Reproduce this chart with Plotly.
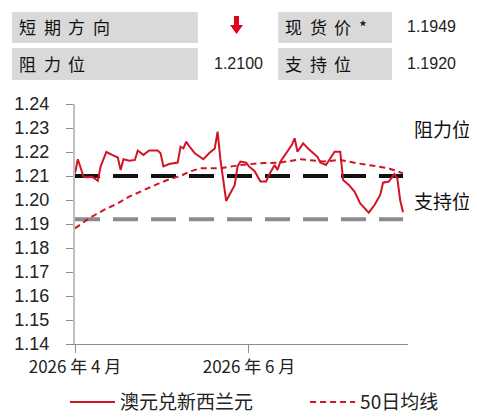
import plotly.graph_objs as go

# AUD/NZD spot
spot_dates = ['2026-04-01', '2026-04-02', '2026-04-04', '2026-04-05', '2026-04-07', '2026-04-09',
              '2026-04-10', '2026-04-12', '2026-04-14', '2026-04-16', '2026-04-17', '2026-04-18',
              '2026-04-20', '2026-04-22', '2026-04-23', '2026-04-25', '2026-04-27', '2026-04-30',
              '2026-05-01', '2026-05-02', '2026-05-04', '2026-05-07', '2026-05-08', '2026-05-09',
              '2026-05-10', '2026-05-11', '2026-05-13', '2026-05-16', '2026-05-18', '2026-05-20',
              '2026-05-21', '2026-05-22', '2026-05-24', '2026-05-26', '2026-05-27', '2026-05-28',
              '2026-05-29', '2026-05-31', '2026-06-01', '2026-06-03', '2026-06-05', '2026-06-07',
              '2026-06-08', '2026-06-10', '2026-06-11', '2026-06-12', '2026-06-14', '2026-06-16',
              '2026-06-17', '2026-06-18', '2026-06-20', '2026-06-22', '2026-06-25', '2026-06-26',
              '2026-06-28', '2026-06-30', '2026-07-01', '2026-07-03', '2026-07-04', '2026-07-06',
              '2026-07-08', '2026-07-10', '2026-07-13', '2026-07-15', '2026-07-17', '2026-07-18',
              '2026-07-20', '2026-07-22', '2026-07-23', '2026-07-24', '2026-07-25']
spot_values = [1.2111, 1.2170, 1.2097, 1.2095, 1.2097, 1.2080,
               1.2140, 1.2200, 1.2188, 1.2177, 1.2125, 1.2170,
               1.2164, 1.2167, 1.2206, 1.2188, 1.2206, 1.2206,
               1.2195, 1.2140, 1.2150, 1.2156, 1.2222, 1.2215,
               1.2243, 1.2225, 1.2195, 1.2170, 1.2195, 1.2215,
               1.2285, 1.2167, 1.1996, 1.2042, 1.2063, 1.2140,
               1.2160, 1.2156, 1.2140, 1.2120, 1.2077, 1.2077,
               1.2104, 1.2146, 1.2125, 1.2160, 1.2195, 1.2229,
               1.2257, 1.2201, 1.2236, 1.2211, 1.2180, 1.2156,
               1.2146, 1.2183, 1.2201, 1.2201, 1.2083, 1.2063,
               1.2035, 1.1986, 1.1947, 1.1979, 1.2021, 1.2072,
               1.2077, 1.2108, 1.2090, 1.2000, 1.1949]

# 50-day moving average
ma_dates = ['2026-04-01', '2026-04-06', '2026-04-11', '2026-04-16', '2026-04-20', '2026-04-25',
            '2026-04-30', '2026-05-04', '2026-05-08', '2026-05-11', '2026-05-15', '2026-05-22',
            '2026-05-29', '2026-06-05', '2026-06-12', '2026-06-19', '2026-06-21', '2026-06-27',
            '2026-07-03', '2026-07-09', '2026-07-16', '2026-07-20', '2026-07-25']
ma_values = [1.1882, 1.1924, 1.1958, 1.1986, 1.2014, 1.2042,
             1.2067, 1.2086, 1.2100, 1.2118, 1.2132, 1.2132,
             1.2146, 1.2153, 1.2156, 1.2170, 1.2167, 1.2160,
             1.2167, 1.2153, 1.2140, 1.2132, 1.2111]

resistance = 1.2100
support = 1.1920
spot_label = '1.1949'
level_dates = ['2026-04-01', '2026-07-25']

tick_dates = ['2026-04-01', '2026-06-01']
tick_labels = ['2026 年 4 月', '2026 年 6 月']

RED = '#d21426'
CJK = 'Noto Sans CJK SC'
NUM = 'Liberation Sans'

fig = go.Figure()

fig.add_trace(go.Scatter(x=level_dates, y=[resistance] * 2, mode='lines', showlegend=False,
                         line=dict(color='#111111', width=4, dash='25px,13px'), hoverinfo='skip'))
fig.add_trace(go.Scatter(x=level_dates, y=[support] * 2, mode='lines', showlegend=False,
                         line=dict(color='#8c8c8c', width=4, dash='25px,13px'), hoverinfo='skip'))
fig.add_trace(go.Scatter(x=ma_dates, y=ma_values, mode='lines', name='50日均线', legend='legend2',
                         line=dict(color=RED, width=2, dash='6px,4px')))
fig.add_trace(go.Scatter(x=spot_dates, y=spot_values, mode='lines', name='澳元兑新西兰元',
                         line=dict(color=RED, width=2)))

# header table boxes
for x0, x1, y0, y1 in [(-0.189, 0.369, 1.254, 1.383), (-0.189, 0.369, 1.100, 1.233),
                       (0.610, 0.952, 1.254, 1.383), (0.610, 0.952, 1.100, 1.233)]:
    fig.add_shape(type='rect', xref='paper', yref='paper', x0=x0, x1=x1, y0=y0, y1=y1,
                  fillcolor='#d9d9d9', line=dict(width=0), layer='below')

# red "down" arrow for short-term direction
fig.add_shape(type='path', xref='paper', yref='paper', fillcolor='#e0001b', line=dict(width=0),
              path='M0.4775,1.3667 L0.4925,1.3667 L0.4925,1.3292 L0.5045,1.3292 '
                   'L0.485,1.2917 L0.4655,1.3292 L0.4775,1.3292 Z')


def px_x(px):
    return (px - 75) / 333.0


# spaced header labels, one character at a time
for word, x_start, y in [('短期方向', 17, 1.321), ('阻力位', 17, 1.167),
                         ('现货价*', 283, 1.321), ('支持位', 283, 1.167)]:
    for i, ch in enumerate(word):
        fig.add_annotation(text=ch, x=px_x(x_start + 24.5 * i), y=y, xref='paper', yref='paper',
                           xanchor='left', yanchor='middle', showarrow=False,
                           font=dict(family=CJK, size=17, color='#111111'))

others = [
    (spot_label, 1.150, 1.321, 'right', NUM, 16, '#222222'),
    ('%.4f' % resistance, 0.571, 1.167, 'right', NUM, 16, '#222222'),
    ('%.4f' % support, 1.150, 1.167, 'right', NUM, 16, '#222222'),
    ('阻力位', 1.012, 0.900, 'left', CJK, 19, '#111111'),
    ('支持位', 1.012, 0.600, 'left', CJK, 19, '#111111'),
]
for txt, x, y, anchor, fam, size, col in others:
    fig.add_annotation(text=txt, x=x, y=y, xref='paper', yref='paper', xanchor=anchor,
                       yanchor='middle', showarrow=False, font=dict(family=fam, size=size, color=col))

leg_font = dict(family=CJK, size=19, color='#222222')
# page body has an 8px margin, so the figure is 8px smaller and the plot area keeps its place
fig.update_layout(
    width=469, height=410,
    margin=dict(l=67, r=69, t=96, b=74, autoexpand=False),
    paper_bgcolor='white', plot_bgcolor='white',
    font=dict(family=CJK, color='#222222'),
    legend=dict(orientation='h', x=-0.030, y=-0.242, xanchor='left', yanchor='middle',
                itemwidth=45, font=leg_font, bgcolor='rgba(0,0,0,0)'),
    legend2=dict(orientation='h', x=0.691, y=-0.242, xanchor='left', yanchor='middle',
                 itemwidth=45, font=leg_font, bgcolor='rgba(0,0,0,0)'),
    xaxis=dict(type='date', range=['2026-04-01', '2026-07-26 18:00'], automargin=False,
               tickvals=tick_dates, ticktext=tick_labels,
               showgrid=False, zeroline=False, showline=True, linecolor='#8c8c8c', linewidth=1,
               ticks='outside', ticklen=8, tickcolor='#8c8c8c',
               tickfont=dict(family=CJK, size=17, color='#222222')),
    yaxis=dict(range=[1.14, 1.24], dtick=0.01, tickformat='.2f', automargin=False,
               showgrid=False, zeroline=False, showline=True, linecolor='#bfbfbf', linewidth=2,
               ticks='outside', ticklen=7, tickcolor='#8c8c8c', ticklabelstandoff=13,
               tickfont=dict(family=NUM, size=18, color='#222222')),
)

fig.write_html("out.html")
